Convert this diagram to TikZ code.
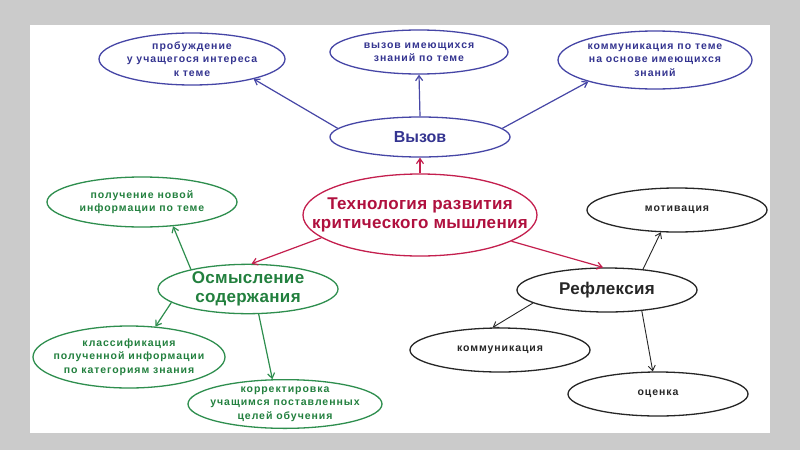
\documentclass[tikz,border=0pt]{standalone}
\usepackage{fontspec}
\setmainfont{Liberation Sans}
\usepackage{tikz}
\usetikzlibrary{arrows.meta,shapes.geometric}
\definecolor{slidegray}{HTML}{CBCBCB}
\definecolor{callblue}{HTML}{4646A6}
\definecolor{callbluetxt}{HTML}{343490}
\definecolor{techred}{HTML}{C41F4E}
\definecolor{techredtxt}{HTML}{B0103E}
\definecolor{sensegreen}{HTML}{2E8E4E}
\definecolor{sensegreentxt}{HTML}{22803E}
\definecolor{reflink}{HTML}{262626}

\begin{document}
\begin{tikzpicture}[x=1pt, y=-1pt, >={Straight Barb[length=5pt,width=7pt]},
  oval/.style={ellipse, draw, line width=1.3pt, inner xsep=-40pt, inner ysep=0pt, align=center,
    font=\fontsize{10.5}{13.3}\selectfont\bfseries\addfontfeature{LetterSpace=9}},
  bigoval/.style={oval, font=\fontsize{17}{19.5}\selectfont\bfseries\addfontfeature{LetterSpace=2}},
  link/.style={->, line width=1.2pt}]
  % ---- slide background ----
  \fill[slidegray] (0,0) rectangle (800,450);
  \fill[white] (30,25) rectangle (770,433);
  % ---- centre ----
  \node[bigoval, draw=techred, text=techredtxt, minimum width=234pt, minimum height=82pt]
    (tk) at (420,215) {Технология развития\\критического мышления};
  % ---- Вызов branch ----
  \node[bigoval, draw=callblue, text=callbluetxt, minimum width=180pt, minimum height=40pt,
    font=\fontsize{16}{19.5}\selectfont\bfseries]
    (vz) at (420,137) {Вызов};
  \node[oval, draw=callblue, text=callbluetxt, minimum width=186pt, minimum height=52pt]
    (pb) at (192,59) {пробуждение\\у учащегося интереса\\к теме};
  \node[oval, draw=callblue, text=callbluetxt, minimum width=178pt, minimum height=44pt]
    (vi) at (419,52) {вызов имеющихся\\знаний по теме};
  \node[oval, draw=callblue, text=callbluetxt, minimum width=194pt, minimum height=58pt]
    (kt) at (655,60) {коммуникация по теме\\на основе имеющихся\\знаний};
  % ---- Осмысление branch ----
  \node[bigoval, draw=sensegreen, text=sensegreentxt, minimum width=180pt, minimum height=42pt]
    (os) at (248,289) {Осмысление\\содержания};
  \node[oval, draw=sensegreen, text=sensegreentxt, minimum width=190pt, minimum height=50pt]
    (pn) at (142,202) {получение новой\\информации по теме};
  \node[oval, draw=sensegreen, text=sensegreentxt, minimum width=192pt, minimum height=62pt]
    (kl) at (129,357) {классификация\\полученной информации\\по категориям знания};
  \node[oval, draw=sensegreen, text=sensegreentxt, minimum width=194pt, minimum height=48pt]
    (kr) at (285,404) {корректировка\\учащимся поставленных\\целей обучения};
  % ---- Рефлексия branch ----
  \node[bigoval, draw=reflink, text=reflink, minimum width=180pt, minimum height=44pt]
    (rf) at (607,290) {Рефлексия};
  \node[oval, draw=reflink, text=reflink, minimum width=180pt, minimum height=44pt]
    (mt) at (677,210) {мотивация};
  \node[oval, draw=reflink, text=reflink, minimum width=180pt, minimum height=44pt]
    (km) at (500,350) {коммуникация};
  \node[oval, draw=reflink, text=reflink, minimum width=180pt, minimum height=44pt]
    (oc) at (658,394) {оценка};
  % ---- connectors ----
  \draw[link, techred] (tk.north) -- (vz.south);
  \draw[link, techred] (tk.193) -- (os.82);
  \draw[link, techred] (tk.344) -- (rf.100);
  \draw[link, callblue] (vz.174) -- (pb.342);
  \draw[link, callblue] (vz.north) -- (vi.south);
  \draw[link, callblue] (vz.6) -- (kt.198);
  \draw[link, sensegreen] (os.161) -- (pn.322);
  \draw[link, sensegreen] (os.190) -- (kl.49);
  \draw[link, sensegreen] (os.293) -- (kr.117);
  \draw[link, reflink, line width=0.9pt] (rf.30) -- (mt.234);
  \draw[link, reflink, line width=0.9pt] (rf.190) -- (km.108);
  \draw[link, reflink, line width=0.9pt] (rf.329) -- (oc.103);
\end{tikzpicture}
\end{document}
